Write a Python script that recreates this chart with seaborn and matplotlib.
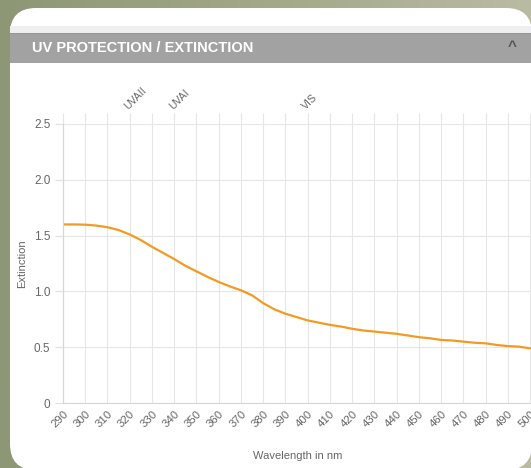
import numpy as np
import pandas as pd
import matplotlib
matplotlib.use("Agg")
import matplotlib.pyplot as plt
import seaborn as sns
from matplotlib.patches import FancyBboxPatch, Rectangle

# Datos (cada 5 nm)
wavelength = [290, 295, 300, 305, 310, 315, 320, 325, 330, 335, 340, 345, 350,
              355, 360, 365, 370, 375, 380, 385, 390, 395, 400, 405, 410, 415,
              420, 425, 430, 435, 440, 445, 450, 455, 460, 465, 470, 475, 480,
              485, 490, 495, 500]
extinction = [1.60, 1.60, 1.598, 1.59, 1.575, 1.55, 1.51, 1.46, 1.40, 1.345, 1.29,
              1.23, 1.18, 1.13, 1.085, 1.045, 1.01, 0.965, 0.895, 0.84, 0.80,
              0.77, 0.74, 0.72, 0.70, 0.685, 0.665, 0.65, 0.64, 0.63, 0.62,
              0.605, 0.59, 0.58, 0.565, 0.56, 0.55, 0.54, 0.535, 0.52, 0.51,
              0.505, 0.49]
x_ticks = list(range(290, 510, 10))
y_ticks = [0, 0.5, 1.0, 1.5, 2.0, 2.5]
y_tick_labels = ["0", "0.5", "1.0", "1.5", "2.0", "2.5"]
band_pos = [320, 340, 400]
band_labels = ["UVAII", "UVAI", "VIS"]

df = pd.DataFrame({"Wavelength": wavelength, "Extinction": extinction})

sns.set_style("whitegrid")
plt.rcParams["font.family"] = ["Liberation Sans", "DejaVu Sans"]

W, H = 531, 468
fig = plt.figure(figsize=(W / 100, H / 100), dpi=100)

# Fondo con degradado y la tarjeta blanca
bg = fig.add_axes([0, 0, 1, 1], zorder=-10)
grad = np.linspace(0, 1, 256)[None, :]
cmap = matplotlib.colors.LinearSegmentedColormap.from_list("bg", ["#8d9775", "#a3a888", "#b9bba3"])
bg.imshow(grad, aspect="auto", cmap=cmap, extent=[0, W, H, 0])
bg.set_xlim(0, W)
bg.set_ylim(H, 0)
bg.axis("off")
bg.add_patch(FancyBboxPatch((10, 8), 522, 462, boxstyle="round,pad=0,rounding_size=26",
                            facecolor="white", edgecolor="none"))
bg.add_patch(Rectangle((10, 26), 530, 8, facecolor="#efefef", edgecolor="none"))
bg.add_patch(Rectangle((10, 33), 530, 30, facecolor="#a2a2a2", edgecolor="none"))
bg.add_patch(Rectangle((10, 33), 530, 1.2, facecolor="#959595", edgecolor="none"))
bg.text(32, 48.5, "UV PROTECTION / EXTINCTION", color="white", fontsize=10.5,
        fontweight="bold", va="center", ha="left")
bg.text(512, 47, "^", color="#555555", fontsize=11, fontweight="bold", va="center", ha="center")

# Gráfico principal
ax = fig.add_axes([63 / W, 65 / H, (W - 63) / W + 0.002, 279 / H])
ax.set_facecolor("none")
sns.lineplot(data=df, x="Wavelength", y="Extinction", ax=ax, color="#f39a22", linewidth=1.6)
ax.set_xlim(290, 500.9)
ax.set_ylim(0, 2.5)
ax.set_xticks(x_ticks)
ax.set_xticklabels([str(t) for t in x_ticks], rotation=45, ha="right", va="top",
                   rotation_mode="anchor")
ax.set_yticks(y_ticks)
ax.set_yticklabels(y_tick_labels)
ax.grid(True, color="#e6e6e6", linewidth=0.8)
ax.tick_params(axis="x", length=0, pad=4, labelsize=8.2, labelcolor="#666666")
ax.tick_params(axis="y", length=6, width=0.8, color="#e0e0e0", pad=3, labelsize=8.5,
               labelcolor="#666666", left=True)
for side in ["top", "right"]:
    ax.spines[side].set_visible(False)
for side in ["left", "bottom"]:
    ax.spines[side].set_color("#d6d6d6")
    ax.spines[side].set_linewidth(0.8)
ax.set_xlabel("Wavelength in nm", fontsize=8, color="#666666", labelpad=16)
ax.set_ylabel("Extinction", fontsize=8, color="#666666", labelpad=5)

# Eje superior con las bandas
top = ax.secondary_xaxis("top")
top.set_xticks(x_ticks)
top.set_xticklabels([band_labels[band_pos.index(t)] if t in band_pos else "" for t in x_ticks],
                    rotation=45, ha="left", va="bottom", rotation_mode="anchor")
top.tick_params(axis="x", length=8, width=0.8, color="#e6e6e6", pad=1, labelsize=7.6,
                labelcolor="#666666")
top.spines["top"].set_visible(False)

fig.savefig("out.png", dpi=100)
